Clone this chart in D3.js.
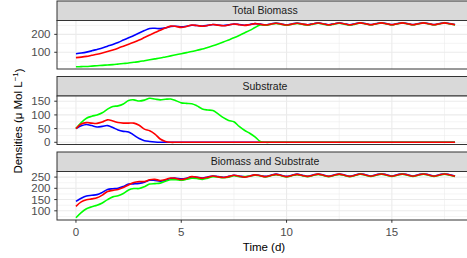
<!DOCTYPE html>
<html>
<head>
<meta charset="utf-8">
<script src="https://cdn.jsdelivr.net/npm/d3@7"></script>
<style>
  body { margin: 0; background: #fff; }
  text { font-family: "Liberation Sans", Arial, sans-serif; }
</style>
</head>
<body>
<script>
// Time axis: one sample every quarter day, 0 .. 18
const times = d3.range(0, 18.001, 0.25);

// Total biomass per run (blue, red, green)
const biomassBlue = [92,96,101,108,116,124,134,144,155,168,181,194,208,221,233,234,232,236,244,245,242,245,251,249,246,250,255,252,249,253,258,255,251,255,260,257,
  253,258,263,258,253,258,263,258,254,259,264,259,254,259,264,259,254,259,265,260,255,260,265,260,255,260,265,260,255,260,265,260,255,260,265,260,255];
const biomassRed = [70,73,77,83,89,96,104,113,123,134,145,156,168,182,196,210,223,236,246,244,239,244,252,249,245,249,255,251,248,252,258,254,250,254,260,256,
  252,257,262,257,252,257,262,257,253,258,263,258,253,258,263,258,253,258,264,259,254,259,264,259,254,259,264,259,254,259,264,259,254,259,264,259,254];
const biomassGreen = [19,20,21,23,25,27,29,31,34,37,40,44,48,53,58,63,68,74,80,86,92,98,104,111,118,127,136,146,157,169,181,194,208,222,238,253,
  251,256,261,256,251,256,261,256,252,257,262,257,252,257,262,257,252,257,263,258,253,258,263,258,253,258,263,258,253,258,263,258,253,258,263,258,253];

// Substrate per run
const substrateBlue = [50,60,65,61,56,58,61,54,45,40,38,26,14,6,3,1,0,0,0,0,0,0,0,0,0,0,0,0,0,0,0,0,0,0,0,0,
  0,0,0,0,0,0,0,0,0,0,0,0,0,0,0,0,0,0,0,0,0,0,0,0,0,0,0,0,0,0,0,0,0,0,0,0,0];
const substrateRed = [50,67,72,70,69,74,82,78,72,70,70,70,62,48,42,30,12,3,0,0,0,0,0,0,0,0,0,0,0,0,0,0,0,0,0,0,
  0,0,0,0,0,0,0,0,0,0,0,0,0,0,0,0,0,0,0,0,0,0,0,0,0,0,0,0,0,0,0,0,0,0,0,0,0];
const substrateGreen = [50,72,88,95,100,108,121,131,133,140,153,155,151,154,161,158,155,157,158,152,144,142,141,133,122,118,116,104,90,80,75,58,44,33,20,3,
  0,0,0,0,0,0,0,0,0,0,0,0,0,0,0,0,0,0,0,0,0,0,0,0,0,0,0,0,0,0,0,0,0,0,0,0,0];

// Tick labels
const xTicks = [0, 5, 10, 15];
const xMinor = [2.5, 7.5, 12.5, 17.5];
const panels = [
  { title: "Total Biomass", series: [biomassBlue, biomassGreen, biomassRed], ticks: [100, 200], minor: [50, 150, 250] },
  { title: "Substrate", series: [substrateBlue, substrateGreen, substrateRed], ticks: [0, 50, 100, 150], minor: [25, 75, 125] },
  { title: "Biomass and Substrate",
    series: [biomassBlue.map((v, i) => v + substrateBlue[i]),
             biomassGreen.map((v, i) => v + substrateGreen[i]),
             biomassRed.map((v, i) => v + substrateRed[i])],
    ticks: [100, 150, 200, 250], minor: [75, 125, 175, 225] }
];
const colors = ["#0000FF", "#00FF00", "#FF0000"];

// Layout
const width = 467, height = 258;
const left = 57, right = 474;
const stripH = 19.5, panelH = 48.5, blockStep = 75.5, top0 = 1;

const svg = d3.select("body").append("svg")
  .attr("width", width)
  .attr("height", height)
  .style("display", "block");

svg.append("rect").attr("width", width).attr("height", height).attr("fill", "#fff");

// shared x scale, ggplot style 5% expansion
const x = d3.scaleLinear().domain([-0.9, 18.9]).range([left, right]);

panels.forEach((p, k) => {
  const stripTop = top0 + k * blockStep;
  const pTop = stripTop + stripH;
  const pBot = pTop + panelH;

  const lo = d3.min(p.series, s => d3.min(s));
  const hi = d3.max(p.series, s => d3.max(s));
  const pad = (hi - lo) * 0.05;
  const y = d3.scaleLinear().domain([lo - pad, hi + pad]).range([pBot, pTop]);

  const g = svg.append("g");

  // strip
  g.append("rect")
    .attr("x", left).attr("y", stripTop)
    .attr("width", right - left).attr("height", stripH)
    .attr("fill", "#D9D9D9").attr("stroke", "#333").attr("stroke-width", 1);
  g.append("text")
    .attr("x", 265).attr("y", stripTop + stripH / 2)
    .attr("dy", "0.35em").attr("text-anchor", "middle")
    .attr("font-size", "10.5px").attr("fill", "#1A1A1A")
    .text(p.title);

  // panel background + grid
  g.append("rect")
    .attr("x", left).attr("y", pTop)
    .attr("width", right - left).attr("height", panelH)
    .attr("fill", "#fff");

  const inY = v => y(v) > pTop && y(v) < pBot;
  g.selectAll(".ymin").data(p.minor.filter(inY)).join("line")
    .attr("x1", left).attr("x2", right).attr("y1", d => y(d)).attr("y2", d => y(d))
    .attr("stroke", "#EBEBEB").attr("stroke-width", 0.55);
  g.selectAll(".xmin").data(xMinor).join("line")
    .attr("y1", pTop).attr("y2", pBot).attr("x1", d => x(d)).attr("x2", d => x(d))
    .attr("stroke", "#EBEBEB").attr("stroke-width", 0.55);
  g.selectAll(".ymaj").data(p.ticks).join("line")
    .attr("x1", left).attr("x2", right).attr("y1", d => y(d)).attr("y2", d => y(d))
    .attr("stroke", "#EBEBEB").attr("stroke-width", 1.1);
  g.selectAll(".xmaj").data(xTicks).join("line")
    .attr("y1", pTop).attr("y2", pBot).attr("x1", d => x(d)).attr("x2", d => x(d))
    .attr("stroke", "#EBEBEB").attr("stroke-width", 1.1);

  // lines
  const line = d3.line()
    .x((d, i) => x(times[i]))
    .y(d => y(d))
    .curve(d3.curveCatmullRom);
  g.selectAll(".series").data(p.series).join("path")
    .attr("d", line)
    .attr("fill", "none")
    .attr("stroke", (d, i) => colors[i])
    .attr("stroke-width", 1.6)
    .attr("stroke-linejoin", "round");

  // panel border
  g.append("rect")
    .attr("x", left).attr("y", pTop)
    .attr("width", right - left).attr("height", panelH)
    .attr("fill", "none").attr("stroke", "#333").attr("stroke-width", 1);

  // y axis ticks
  g.selectAll(".yt").data(p.ticks).join("line")
    .attr("x1", left - 2.75).attr("x2", left).attr("y1", d => y(d)).attr("y2", d => y(d))
    .attr("stroke", "#333").attr("stroke-width", 1);
  g.selectAll(".yl").data(p.ticks).join("text")
    .attr("x", left - 6.5).attr("y", d => y(d)).attr("dy", "0.35em")
    .attr("text-anchor", "end").attr("font-size", "11.5px").attr("fill", "#4D4D4D")
    .text(d => d);

  // x axis on the last panel only
  if (k === panels.length - 1) {
    g.selectAll(".xt").data(xTicks).join("line")
      .attr("x1", d => x(d)).attr("x2", d => x(d)).attr("y1", pBot).attr("y2", pBot + 2.75)
      .attr("stroke", "#333").attr("stroke-width", 1);
    g.selectAll(".xl").data(xTicks).join("text")
      .attr("x", d => x(d)).attr("y", pBot + 12)
      .attr("dy", "0.35em").attr("text-anchor", "middle")
      .attr("font-size", "11.5px").attr("fill", "#4D4D4D")
      .text(d => d);
  }
});

// axis titles
svg.append("text")
  .attr("x", 264).attr("y", 247).attr("dy", "0.35em")
  .attr("text-anchor", "middle").attr("font-size", "11.5px").attr("fill", "#000")
  .text("Time (d)");

const yTitle = svg.append("text")
  .attr("transform", "translate(18, 121) rotate(-90)")
  .attr("dy", "0.35em")
  .attr("text-anchor", "middle").attr("font-size", "11.5px").attr("fill", "#000");
yTitle.append("tspan").text("Densities (μ Mol L");
yTitle.append("tspan").attr("font-size", "8px").attr("dy", "-0.55em").text("−1");
yTitle.append("tspan").attr("dy", "0.45em").text(")");
</script>
</body>
</html>
